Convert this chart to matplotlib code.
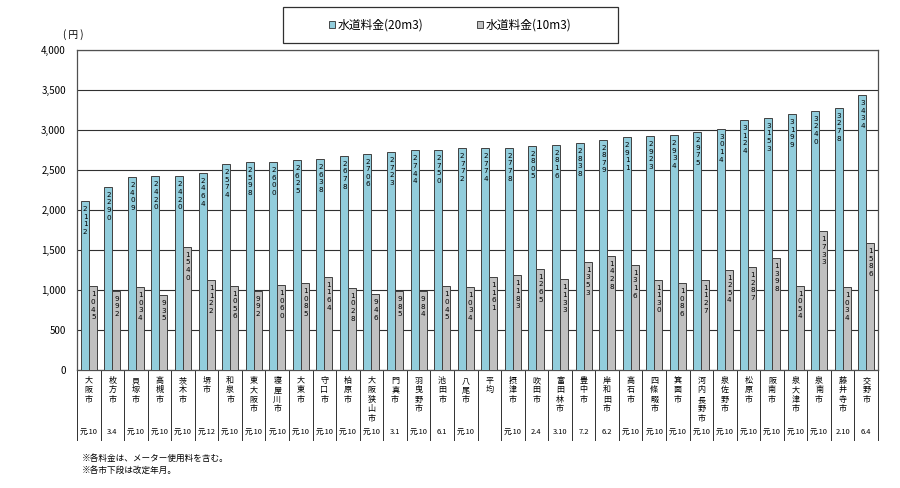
import matplotlib
matplotlib.use("Agg")
import matplotlib.pyplot as plt
import matplotlib.transforms as mtransforms
from matplotlib.patches import Patch, Rectangle
import numpy as np

plt.rcParams['font.family'] = ['Noto Sans CJK JP', 'DejaVu Sans']

# data
cities = ['大阪市', '枚方市', '貝塚市', '高槻市', '茨木市', '堺市', '和泉市', '東大阪市',
          '寝屋川市', '大東市', '守口市', '柏原市', '大阪狭山市', '門真市', '羽曳野市',
          '池田市', '八尾市', '平均', '摂津市', '吹田市', '富田林市', '豊中市', '岸和田市',
          '高石市', '四條畷市', '箕面市', '河内長野市', '泉佐野市', '松原市', '阪南市',
          '泉大津市', '泉南市', '藤井寺市', '交野市']
revised = ['元.10', '3.4', '元.10', '元.10', '元.10', '元.12', '元.10', '元.10', '元.10',
           '元.10', '元.10', '元.10', '元.10', '3.1', '元.10', '6.1', '元.10', '',
           '元.10', '2.4', '3.10', '7.2', '6.2', '元.10', '元.10', '元.10', '元.10',
           '元.10', '元.10', '元.10', '元.10', '元.10', '2.10', '6.4']
fee_20m3 = [2112, 2290, 2409, 2420, 2420, 2464, 2574, 2598, 2600, 2625, 2638, 2678,
            2706, 2723, 2744, 2750, 2772, 2774, 2778, 2805, 2816, 2838, 2879, 2911,
            2923, 2934, 2975, 3014, 3124, 3153, 3199, 3240, 3278, 3434]
fee_10m3 = [1045, 992, 1034, 935, 1540, 1122, 1056, 992, 1060, 1085, 1164, 1028,
            946, 985, 984, 1045, 1034, 1161, 1183, 1265, 1133, 1353, 1428, 1316,
            1130, 1086, 1127, 1254, 1287, 1398, 1054, 1733, 1034, 1586]

blue = '#92CDDC'
grey = '#C0C0C0'

fig = plt.figure(figsize=(9, 4.88), dpi=100)
ax = fig.add_axes([77/900, 1-370/488, 801/900, 320/488])

x = np.arange(len(cities))
w = 0.34
b1 = ax.bar(x - w/2, fee_20m3, w, color=blue, edgecolor='#404040', linewidth=0.7, zorder=3)
b2 = ax.bar(x + w/2, fee_10m3, w, color=grey, edgecolor='#404040', linewidth=0.7, zorder=3)

# stacked digits inside the bars
for bars, vals in ((b1, fee_20m3), (b2, fee_10m3)):
    for rect, v in zip(bars, vals):
        cx = rect.get_x() + rect.get_width()/2
        for i, ch in enumerate(str(v)):
            ax.annotate(ch, xy=(cx, v), xytext=(0.5, -5 - 7.6*i), textcoords='offset pixels',
                        ha='center', va='top', fontsize=5.2, family='DejaVu Sans', zorder=4)

ax.set_xlim(-0.5, len(cities) - 0.5)
ax.set_ylim(0, 4000)
ax.set_yticks(np.arange(0, 4001, 500))
ax.set_yticklabels([f'{v:,}' for v in range(0, 4001, 500)], fontsize=7)
ax.tick_params(axis='y', length=0, pad=8)
ax.tick_params(axis='x', length=0, labelbottom=False)
ax.yaxis.grid(True, color='#303030', linewidth=0.8, zorder=0)
for s in ax.spines.values():
    s.set_color('#505050')
    s.set_linewidth(0.9)

ax.text(-0.005, 1.03, '( 円 )', transform=ax.transAxes, ha='center', va='bottom', fontsize=7)

# category table below the axis
px = 1/320
trans = mtransforms.blended_transform_factory(ax.transData, ax.transAxes)
for b in np.arange(-0.5, len(cities), 1.0):
    ax.plot([b, b], [0, -70*px], color='#303030', linewidth=0.7, transform=trans, clip_on=False)
for xi, name, d in zip(x, cities, revised):
    for i, ch in enumerate(name):
        ax.text(xi, -(6 + 9.4*i)*px, ch, transform=trans, ha='center', va='top', fontsize=5.8)
    ax.text(xi, -62*px, d, transform=trans, ha='center', va='center', fontsize=5.4)

# legend in its own box
fig.patches.append(Rectangle((283/900, 1-43/488), 335/900, 36/488, transform=fig.transFigure,
                             fill=False, edgecolor='#303030', linewidth=0.9))
handles = [Patch(facecolor=blue, edgecolor='#303030', linewidth=0.6),
           Patch(facecolor=grey, edgecolor='#303030', linewidth=0.6)]
fig.legend(handles, ['水道料金(20m3)', '水道料金(10m3)'], loc='center',
           bbox_to_anchor=(450/900, 1-25/488), ncol=2, frameon=False, fontsize=8.5,
           handlelength=0.55, handleheight=0.55, handletextpad=0.2, columnspacing=4.5)

fig.text(82/900, 1-458/488, '※各料金は、メーター使用料を含む。', fontsize=6.2, va='center')
fig.text(82/900, 1-470/488, '※各市下段は改定年月。', fontsize=6.2, va='center')

fig.savefig('out.png', dpi=100)
